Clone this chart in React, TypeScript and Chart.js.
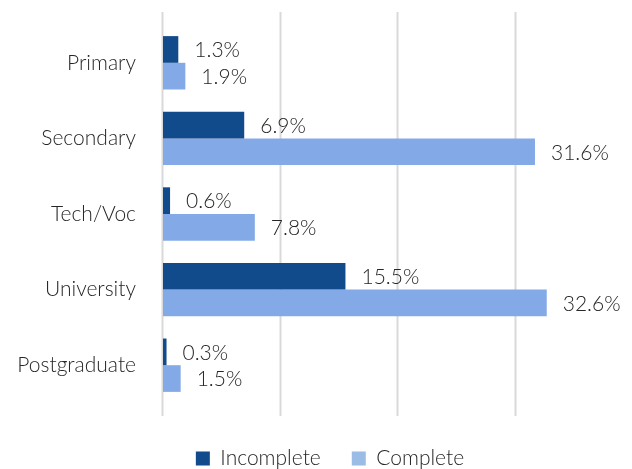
import React, { useEffect, useRef } from "react";
import { Chart, registerables } from "chart.js";

Chart.register(...registerables);

const categories = ["Primary", "Secondary", "Tech/Voc", "University", "Postgraduate"];
const incompleteValues = [1.3, 6.9, 0.6, 15.5, 0.3];
const completeValues = [1.9, 31.6, 7.8, 32.6, 1.5];
const seriesNames = ["Incomplete", "Complete"];
const gridValues = [0, 10, 20, 30];

const DARK = "#124B8B";
const LIGHT = "#83AAE7";
const LIGHT_LEGEND = "#9BBCE4";
const TEXT = "#262626";
const FONT = "Lato, 'Open Sans', sans-serif";

const gridPlugin = {
  id: "extGrid",
  beforeDatasetsDraw(chart: any) {
    const { ctx, chartArea, scales } = chart;
    const x = scales.x;
    ctx.save();
    ctx.strokeStyle = "#D9D9D9";
    ctx.lineWidth = 2;
    gridValues.forEach((v) => {
      const px = Math.round(x.getPixelForValue(v)) - 0.5;
      ctx.beginPath();
      ctx.moveTo(px, chartArea.top - 13);
      ctx.lineTo(px, chartArea.bottom + 13);
      ctx.stroke();
    });
    ctx.restore();
  },
};

const labelPlugin = {
  id: "barLabels",
  afterDatasetsDraw(chart: any) {
    const { ctx } = chart;
    ctx.save();
    ctx.font = `300 21px ${FONT}`;
    ctx.fillStyle = TEXT;
    ctx.textAlign = "left";
    ctx.textBaseline = "middle";
    chart.data.datasets.forEach((ds: any, i: number) => {
      const meta = chart.getDatasetMeta(i);
      meta.data.forEach((bar: any, j: number) => {
        const v = ds.data[j];
        ctx.fillText(v.toFixed(1) + "%", bar.x + 16, bar.y + 1);
      });
    });
    ctx.restore();
  },
};

const legendShift = {
  id: "legendShift",
  afterLayout(chart: any) {
    const l = chart.legend;
    if (!l) return;
    const dx = 330 - (l.left + l.right) / 2;
    l.left += dx;
    l.right += dx;
    l.top += 14;
    l.bottom += 14;
  },
};

export default function App() {
  const ref = useRef<HTMLCanvasElement | null>(null);

  useEffect(() => {
    document.body.style.margin = "0";
    if (!ref.current) return;
    const chart = new Chart(ref.current, {
      type: "bar",
      data: {
        labels: categories,
        datasets: [
          {
            label: seriesNames[0],
            data: incompleteValues,
            backgroundColor: DARK,
            borderWidth: 0,
            categoryPercentage: 0.706,
            barPercentage: 1,
          },
          {
            label: seriesNames[1],
            data: completeValues,
            backgroundColor: LIGHT,
            borderWidth: 0,
            categoryPercentage: 0.706,
            barPercentage: 1,
          },
        ],
      },
      options: {
        indexAxis: "y",
        responsive: false,
        animation: false,
        layout: { padding: { top: 25, right: 57, left: 0, bottom: 4 } },
        scales: {
          x: {
            min: 0,
            max: 35,
            display: false,
            grid: { display: false },
          },
          y: {
            grid: { display: false, drawTicks: false },
            border: { display: false },
            ticks: {
              color: TEXT,
              font: { family: FONT, size: 21, weight: "300" },
              padding: 27,
            },
            afterFit: (scale: any) => {
              scale.width = 163;
              scale.paddingTop = 0;
              scale.paddingBottom = 0;
            },
          },
        },
        plugins: {
          legend: {
            position: "bottom",
            labels: {
              color: TEXT,
              font: { family: FONT, size: 21, weight: "300" },
              boxWidth: 14,
              boxHeight: 14,
              padding: 31,
              generateLabels: (chart: any) =>
                chart.data.datasets.map((ds: any, i: number) => ({
                  text: ds.label,
                  fillStyle: i === 0 ? DARK : LIGHT_LEGEND,
                  strokeStyle: "transparent",
                  lineWidth: 0,
                  hidden: false,
                  datasetIndex: i,
                  fontColor: TEXT,
                })),
            },
          },
          tooltip: { enabled: false },
        },
      },
      plugins: [gridPlugin, labelPlugin, legendShift],
    });
    return () => chart.destroy();
  }, []);

  return (
    <div style={{ width: 632, height: 469 }}>
      <canvas ref={ref} width={632} height={469} />
    </div>
  );
}
